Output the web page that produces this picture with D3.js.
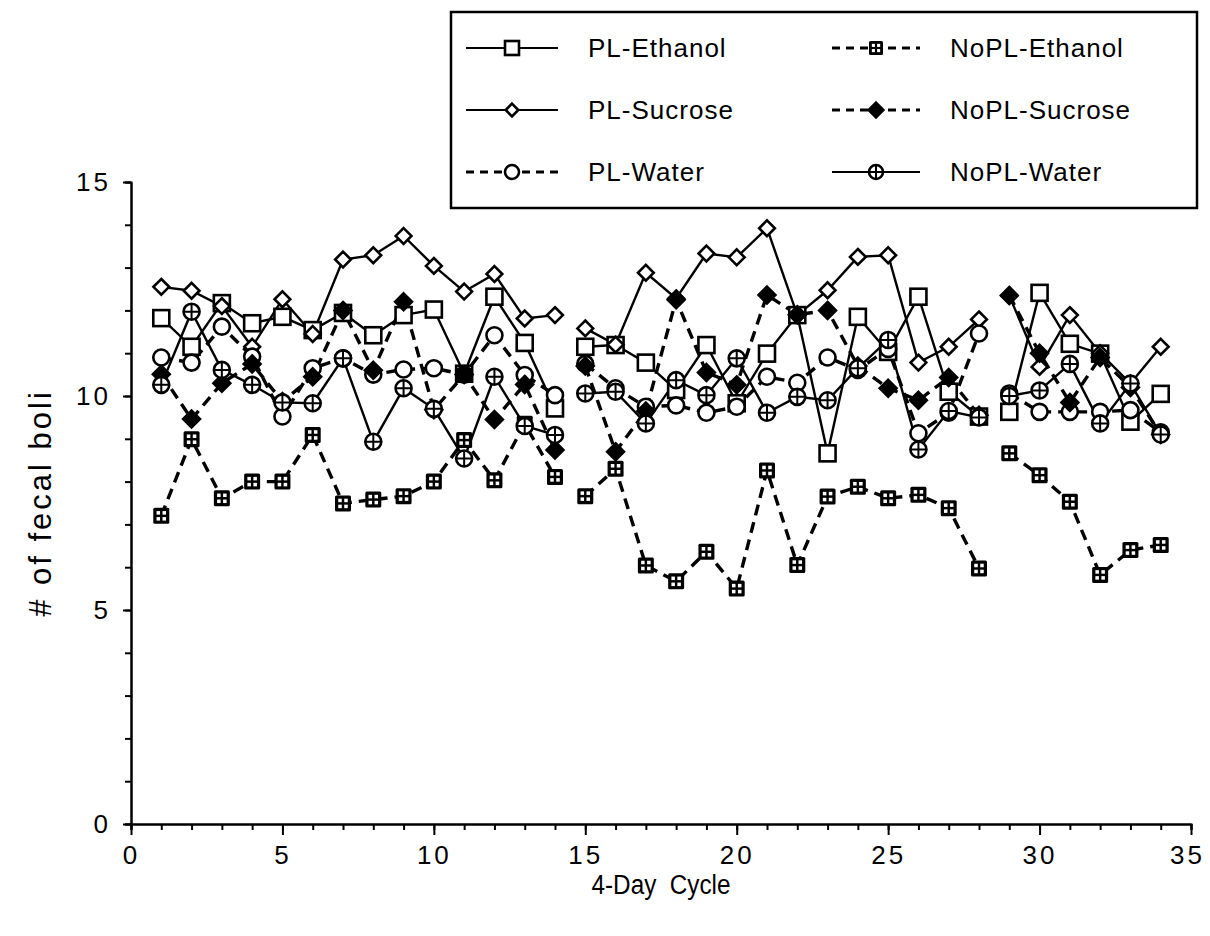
<!DOCTYPE html>
<html>
<head>
<meta charset="UTF-8">
<style>
body{
	margin: 0;
	background: #fff;
	font-family: "Liberation Sans", Arial, Helvetica, sans-serif;
}
.axis path, .axis line{
	stroke: #000;
	stroke-width: 2px;
}
.axis text{
	font-family: "Liberation Sans", Arial, sans-serif;
	font-size: 26px;
	letter-spacing: 3px;
	fill: #000;
}
.minor text{
	display: none;
}
.series-line{
	fill: none;
	stroke: #000;
	stroke-width: 2.4px;
}
.dashed{
	stroke-width: 3.4px;
	stroke-dasharray: 11 7;
}
.axis-label{
	font-family: "Liberation Sans Narrow", "Liberation Sans", Arial, sans-serif;
	font-size: 27px;
	fill: #000;
	white-space: pre;
}
.legend-text{
	font-size: 26px;
	letter-spacing: 1px;
	fill: #000;
}
</style>
<script src="https://cdn.jsdelivr.net/npm/d3@7"></script>
</head>
<body>
<script>
// 4-day cycles on the x axis; the series are broken after cycle 14 and 28
var cycles = [1, 2, 3, 4, 5, 6, 7, 8, 9, 10, 11, 12, 13, 14, 15, 16, 17, 18, 19, 20, 21, 22, 23, 24, 25, 26, 27, 28, 29, 30, 31, 32, 33, 34];
var blocks = [[1, 14], [15, 28], [29, 34]];

var plEthanol   = [11.82, 11.15, 12.17, 11.70, 11.85, 11.54, 11.94, 11.42, 11.89, 12.02, 10.52, 12.32, 11.24, 9.71,
                   11.15, 11.19, 10.78, 10.14, 11.19, 9.83, 10.99, 11.89, 8.66, 11.85, 11.03, 12.32, 10.10, 9.52,
                   9.63, 12.41, 11.22, 10.99, 9.40, 10.05];
var plSucrose   = [12.55, 12.46, 12.10, 11.15, 12.26, 11.45, 13.19, 13.29, 13.74, 13.04, 12.44, 12.85, 11.81, 11.89,
                   11.58, 11.20, 12.88, 12.28, 13.33, 13.24, 13.92, 11.89, 12.47, 13.25, 13.29, 10.78, 11.15, 11.79,
                   12.34, 10.68, 11.89, 11.00, 10.29, 11.15];
var plWater     = [10.90, 10.78, 11.62, 10.92, 9.52, 10.65, 10.88, 10.50, 10.62, 10.65, 10.50, 11.42, 10.49, 10.02,
                   10.75, 10.18, 9.75, 9.78, 9.61, 9.75, 10.45, 10.31, 10.90, 10.61, 11.10, 9.13, 9.61, 11.46,
                   10.06, 9.63, 9.63, 9.63, 9.67, 9.15];
var noplEthanol = [7.20, 8.99, 7.61, 8.00, 8.00, 9.09, 7.49, 7.58, 7.66, 8.00, 8.97, 8.03, 9.35, 8.11,
                   7.66, 8.30, 6.04, 5.67, 6.36, 5.50, 8.26, 6.05, 7.65, 7.88, 7.61, 7.69, 7.38, 5.97,
                   8.66, 8.15, 7.53, 5.82, 6.40, 6.52];
var noplSucrose = [10.51, 9.46, 10.30, 10.75, 9.87, 10.45, 12.00, 10.60, 12.20, 9.68, 10.50, 9.45, 10.27, 8.74,
                   10.70, 8.70, 9.65, 12.25, 10.55, 10.26, 12.36, 11.90, 12.00, 10.70, 10.18, 9.90, 10.43, 9.55,
                   12.35, 11.00, 9.85, 10.90, 10.20, 9.10];
var noplWater   = [10.26, 11.97, 10.61, 10.26, 9.85, 9.83, 10.88, 8.93, 10.18, 9.70, 8.54, 10.45, 9.30, 9.09,
                   10.06, 10.10, 9.36, 10.37, 10.02, 10.88, 9.61, 9.98, 9.90, 10.65, 11.31, 8.75, 9.65, 9.50,
                   10.00, 10.13, 10.75, 9.36, 10.29, 9.10];

var xTicks = [0, 5, 10, 15, 20, 25, 30, 35];
var yTicks = [0, 5, 10, 15];

var series = [
	{name: "PL-Ethanol",    values: plEthanol,   marker: "square",  dashed: false},
	{name: "PL-Sucrose",    values: plSucrose,   marker: "diamond", dashed: false},
	{name: "PL-Water",      values: plWater,     marker: "circle",  dashed: true},
	{name: "NoPL-Ethanol",  values: noplEthanol, marker: "grid",    dashed: true},
	{name: "NoPL-Sucrose",  values: noplSucrose, marker: "filled",  dashed: true},
	{name: "NoPL-Water",    values: noplWater,   marker: "cross",   dashed: false}
];

var W = 1210, H = 936;
var margin = {left: 131, right: 1191, top: 182, bottom: 824};

var x = d3.scaleLinear().domain([0, 35]).range([margin.left, margin.right]);
var y = d3.scaleLinear().domain([0, 15]).range([margin.bottom, margin.top]);

var svg = d3.select("body").append("svg")
	.attr("width", W)
	.attr("height", H);

// axes: minor ticks every unit, major ticks with labels
svg.append("g")
	.attr("class", "axis minor")
	.attr("transform", "translate(0," + margin.bottom + ")")
	.call(d3.axisBottom(x).tickValues(d3.range(0, 36)).tickSize(6).tickFormat(""));
svg.append("g")
	.attr("class", "axis")
	.attr("transform", "translate(0," + margin.bottom + ")")
	.call(d3.axisBottom(x).tickValues(xTicks).tickSize(11).tickPadding(11).tickSizeOuter(0))
	.selectAll("text").attr("dx", function(d){ return d == 35 ? "-4px" : "0px"; });

svg.append("g")
	.attr("class", "axis minor")
	.attr("transform", "translate(" + margin.left + ",0)")
	.call(d3.axisLeft(y).tickValues(d3.range(0, 16)).tickSize(6).tickFormat(""));
svg.append("g")
	.attr("class", "axis")
	.attr("transform", "translate(" + margin.left + ",0)")
	.call(d3.axisLeft(y).tickValues(yTicks).tickSize(8).tickPadding(12).tickSizeOuter(0));

svg.append("text")
	.attr("class", "axis-label")
	.attr("text-anchor", "middle")
	.attr("transform", "translate(661,894) scale(0.9,1)")
	.text("4-Day  Cycle");

svg.append("text")
	.attr("class", "axis-label")
	.attr("text-anchor", "middle")
	.style("font-size", "31px")
	.style("letter-spacing", "3px")
	.attr("transform", "translate(51,503) rotate(-90)")
	.text("# of fecal boli");

// markers
function drawMarker(g, type, s){
	var h = s / 2;
	if(type == "square"){
		g.append("rect").attr("x", -h).attr("y", -h).attr("width", s).attr("height", s)
			.attr("fill", "#fff").attr("stroke", "#000").attr("stroke-width", 2.6);
	}else if(type == "diamond" || type == "filled"){
		var d = h * 1.05;
		g.append("path").attr("d", "M0," + (-d) + "L" + d + ",0L0," + d + "L" + (-d) + ",0Z")
			.attr("fill", type == "filled" ? "#000" : "#fff")
			.attr("stroke", "#000").attr("stroke-width", 2.6);
	}else if(type == "circle" || type == "cross"){
		g.append("circle").attr("r", h)
			.attr("fill", "#fff").attr("stroke", "#000").attr("stroke-width", 2.6);
		if(type == "cross"){
			g.append("path").attr("d", "M" + (-h) + ",0H" + h + "M0," + (-h) + "V" + h)
				.attr("stroke", "#000").attr("stroke-width", 2);
		}
	}else if(type == "grid"){
		g.append("rect").attr("x", -h).attr("y", -h).attr("width", s).attr("height", s).attr("rx", 1.5)
			.attr("fill", "#000");
		var c = s * 0.22;
		[[-1, -1], [1, -1], [-1, 1], [1, 1]].forEach(function(p){
			g.append("rect")
				.attr("x", p[0] * (c * 0.35 + c / 2) - c / 2)
				.attr("y", p[1] * (c * 0.35 + c / 2) - c / 2)
				.attr("width", c).attr("height", c).attr("fill", "#fff");
		});
	}
}

var line = d3.line()
	.x(function(d){ return x(d.cycle); })
	.y(function(d){ return y(d.value); });

series.forEach(function(s){
	var pts = cycles.map(function(c, i){ return {cycle: c, value: s.values[i]}; });
	blocks.forEach(function(b){
		svg.append("path")
			.datum(pts.filter(function(p){ return p.cycle >= b[0] && p.cycle <= b[1]; }))
			.attr("class", "series-line" + (s.dashed ? " dashed" : ""))
			.attr("d", line);
	});
});

series.forEach(function(s){
	cycles.forEach(function(c, i){
		var g = svg.append("g")
			.attr("transform", "translate(" + x(c) + "," + y(s.values[i]) + ")");
		drawMarker(g, s.marker, s.marker == "diamond" ? 15 : 16);
	});
});

// legend
var legend = svg.append("g");
legend.append("rect")
	.attr("x", 451).attr("y", 12).attr("width", 746).attr("height", 196)
	.attr("fill", "#fff").attr("stroke", "#000").attr("stroke-width", 2.5);

var cols = [{x1: 466, x2: 558, tx: 588}, {x1: 832, x2: 920, tx: 950}];
var rows = [48, 110, 172];

series.forEach(function(s, i){
	var col = cols[i < 3 ? 0 : 1];
	var ry = rows[i % 3];
	legend.append("line")
		.attr("x1", col.x1).attr("x2", col.x2).attr("y1", ry).attr("y2", ry)
		.attr("stroke", "#000")
		.attr("stroke-width", s.dashed ? 3 : 2)
		.attr("stroke-dasharray", s.dashed ? "8 6" : null);
	var g = legend.append("g")
		.attr("transform", "translate(" + ((col.x1 + col.x2) / 2) + "," + ry + ")");
	drawMarker(g, s.marker, s.marker == "diamond" ? 12 : 14);
	legend.append("text")
		.attr("class", "legend-text")
		.attr("x", col.tx)
		.attr("y", ry)
		.attr("dy", "0.36em")
		.text(s.name);
});
</script>
</body>
</html>
